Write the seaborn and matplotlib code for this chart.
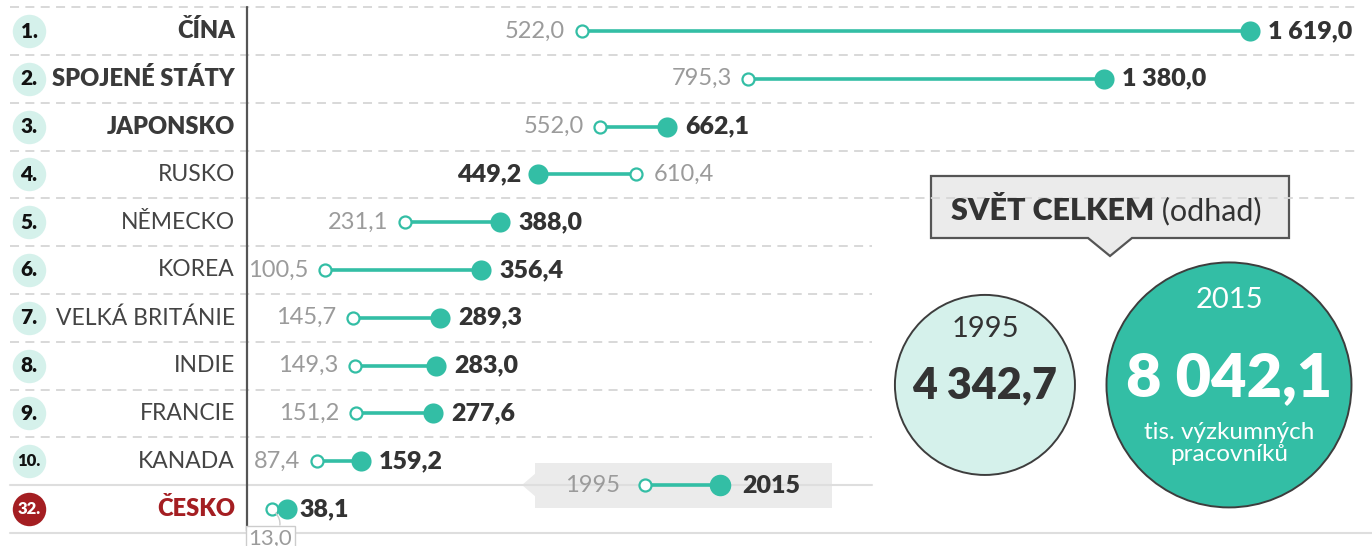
import numpy as np
import pandas as pd
import matplotlib
matplotlib.use("Agg")
import matplotlib.pyplot as plt
from matplotlib.patches import Polygon, Rectangle
import seaborn as sns

# data (thousands of researchers)
ranks = ["1.", "2.", "3.", "4.", "5.", "6.", "7.", "8.", "9.", "10.", "32."]
countries = ["ČÍNA", "SPOJENÉ STÁTY", "JAPONSKO", "RUSKO", "NĚMECKO", "KOREA",
             "VELKÁ BRITÁNIE", "INDIE", "FRANCIE", "KANADA", "ČESKO"]
v1995 = [522.0, 795.3, 552.0, 610.4, 231.1, 100.5, 145.7, 149.3, 151.2, 87.4, 13.0]
v2015 = [1619.0, 1380.0, 662.1, 449.2, 388.0, 356.4, 289.3, 283.0, 277.6, 159.2, 38.1]
world_years = ["1995", "2015"]
world_total = [4342.7, 8042.1]
highlight = "ČESKO"

TEAL = "#33bea5"
MINT = "#d5f1eb"
RED = "#a41e22"
DARK = "#333333"
GRAY = "#9b9b9b"
HEAVY = "heavy"

sns.set_theme(style="white")
plt.rcParams["font.family"] = ["Lato", "DejaVu Sans"]


def fmt(v):
    return f"{v:,.1f}".replace(",", " ").replace(".", ",")


df = pd.DataFrame({"rank": ranks, "country": countries, "y1995": v1995, "y2015": v2015})
df["row"] = np.arange(len(df))

# pixel layout
W, H = 1372, 546
X0, PPU = 264, 0.609        # px of zero, px per unit
ROW0, ROWH = 31, 47.8       # px of first row, row height

fig = plt.figure(figsize=(W / 100, H / 100), dpi=100)

# background decorations in pixel coordinates
ov = fig.add_axes([0, 0, 1, 1])
ov.set_xlim(0, W)
ov.set_ylim(H, 0)
ov.axis("off")

for i in range(-1, len(df) - 2):
    yy = ROW0 + (i + 0.5) * ROWH
    x_end = 1358 if i <= 3 else 872
    ov.plot([10, x_end], [yy, yy], color="#d6d6d6", lw=1.3, dashes=(5, 3.5))
yy = ROW0 + (len(df) - 1.5) * ROWH
ov.plot([10, 872], [yy, yy], color="#dedede", lw=1.5)
yy = ROW0 + (len(df) - 0.5) * ROWH
ov.plot([10, W], [yy, yy], color="#dedede", lw=1.5)
ov.plot([247, 247], [7, 531], color="#555555", lw=1.6)

# legend box
ov.add_patch(Rectangle((535, 463), 297, 45, color="#ebebeb", lw=0))
ov.add_patch(Polygon([(536, 473), (522, 485), (536, 497)], closed=True, color="#ebebeb", lw=0))
ov.plot([645, 720], [485, 485], color=TEAL, lw=2.6, solid_capstyle="butt")
ov.scatter([645], [485], s=75, facecolor="white", edgecolor=TEAL, linewidth=1.6, zorder=3)
ov.scatter([720], [485], s=210, color=TEAL, zorder=3)
ov.text(620, 486, "1995", ha="right", va="center", fontsize=17, color=GRAY)
ov.text(742, 486, "2015", ha="left", va="center", fontsize=18, color=DARK, fontweight=HEAVY)

# callout box
ov.add_patch(Polygon([(931, 176), (1289, 176), (1289, 238), (1132, 238), (1110, 256),
                      (1088, 238), (931, 238)], closed=True,
                     facecolor="#ebebeb", edgecolor="#555555", lw=1.6))
t = ov.text(951, 211, "SVĚT CELKEM", ha="left", va="center", fontsize=22,
            color=DARK, fontweight=HEAVY)
ov.annotate(" (odhad)", xy=(1, 0), xycoords=t, ha="left", va="bottom",
            fontsize=22, color=DARK)

# main dumbbell axes
ax = fig.add_axes([0, 0, 1, 1])
ax.patch.set_alpha(0)
ax.set_xlim(-X0 / PPU, (W - X0) / PPU)
ax.set_ylim(-ROW0 / ROWH + H / ROWH, -ROW0 / ROWH)
ax.axis("off")

ax.hlines(df["row"], df["y1995"], df["y2015"], color=TEAL, lw=2.6, zorder=2)
sns.scatterplot(data=df, x="y1995", y="row", ax=ax, s=75, color="white",
                edgecolor=TEAL, linewidth=1.6, zorder=3, legend=False)
sns.scatterplot(data=df, x="y2015", y="row", ax=ax, s=210, color=TEAL,
                edgecolor=TEAL, linewidth=0, zorder=4, legend=False)

ytr = ax.get_yaxis_transform()
for _, r in df.iterrows():
    i = r["row"]
    hot = r["country"] == highlight
    ax.scatter([29 / W], [i], s=580, color=RED if hot else MINT, transform=ytr,
               linewidth=0, zorder=3)
    ax.text(29 / W, i, r["rank"], transform=ytr, ha="center", va="center",
            fontsize=15 if len(r["rank"]) < 3 else 12, fontweight=HEAVY,
            color="white" if hot else "#111111", zorder=4)
    ax.text(235 / W, i, r["country"], transform=ytr, ha="right", va="center",
            fontsize=17 if (i < 3 or hot) else 16.5,
            color=RED if hot else ("#3a3a3a" if i < 3 else "#444444"),
            fontweight=HEAVY if (i < 3 or hot) else "normal")

    if hot:
        ax.annotate(fmt(r["y1995"]), xy=(r["y1995"], i), xytext=(-1, -21),
                    textcoords="offset points", ha="center", va="center",
                    fontsize=16, color=GRAY,
                    bbox=dict(boxstyle="square,pad=0.12", fc="white", ec="#cccccc", lw=1),
                    arrowprops=dict(arrowstyle="-", color="#cccccc", lw=1,
                                    connectionstyle="arc3,rad=0.6", shrinkA=0, shrinkB=4))
        ax.annotate(fmt(r["y2015"]), xy=(r["y2015"], i), xytext=(9, 0),
                    textcoords="offset points", ha="left", va="center",
                    fontsize=18, color=DARK, fontweight=HEAVY)
        continue

    lo, hi = min(r["y1995"], r["y2015"]), max(r["y1995"], r["y2015"])
    for val, is_new in ((r["y1995"], False), (r["y2015"], True)):
        right = val == hi
        ax.annotate(fmt(val), xy=(val, i), xytext=(13 if right else -12, 0),
                    textcoords="offset points", ha="left" if right else "right",
                    va="center", fontsize=18 if is_new else 17,
                    color=DARK if is_new else GRAY,
                    fontweight=HEAVY if is_new else "normal")

# world totals panel: circle area proportional to value
pa = fig.add_axes([880 / W, 0, 492 / W, 1])
pa.patch.set_alpha(0)
pa.set_xlim(-0.43, 1.586)
pa.set_ylim(-0.59, 1.41)
pa.axis("off")
k = 31117 / max(world_total)
pos = np.arange(len(world_total))
pa.scatter(pos, np.zeros(len(pos)), s=np.array(world_total) * k,
           color=[MINT, TEAL], edgecolor="#3d3d3d", linewidth=1.4, zorder=2)
pa.annotate(world_years[0], xy=(pos[0], 0), xytext=(0, 40), textcoords="offset points",
            ha="center", va="center", fontsize=21, color=DARK)
pa.annotate(fmt(world_total[0]), xy=(pos[0], 0), xytext=(0, 0), textcoords="offset points",
            ha="center", va="center", fontsize=31, color=DARK, fontweight=HEAVY)
pa.annotate(world_years[1], xy=(pos[1], 0), xytext=(0, 61), textcoords="offset points",
            ha="center", va="center", fontsize=21, color="white")
pa.annotate(fmt(world_total[1]), xy=(pos[1], 0), xytext=(0, 5), textcoords="offset points",
            ha="center", va="center", fontsize=44, color="white", fontweight=HEAVY)
pa.annotate("tis. výzkumných\npracovníků", xy=(pos[1], 0), xytext=(0, -42),
            textcoords="offset points", ha="center", va="center", fontsize=17.5,
            color="white", linespacing=1.05)

fig.savefig("out.png", dpi=100)
